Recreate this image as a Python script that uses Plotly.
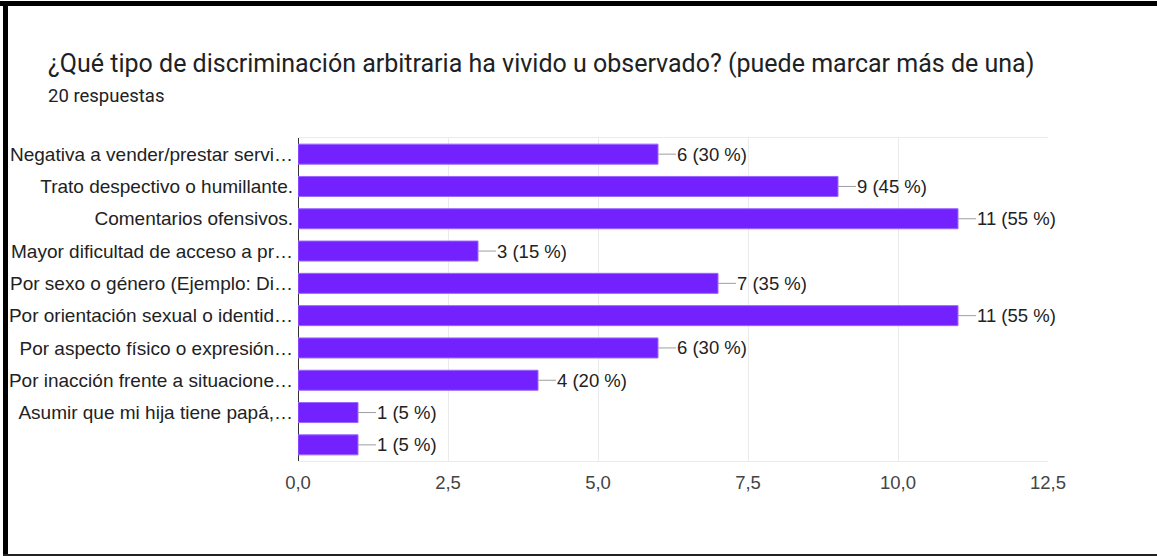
import plotly.graph_objects as go

categories = [
    "Negativa a vender/prestar servi…",
    "Trato despectivo o humillante.",
    "Comentarios ofensivos.",
    "Mayor dificultad de acceso a pr…",
    "Por sexo o género (Ejemplo: Di…",
    "Por orientación sexual o identid…",
    "Por aspecto físico o expresión…",
    "Por inacción frente a situacione…",
    "Asumir que mi hija tiene papá,…",
    " ",
]
counts = [6, 9, 11, 3, 7, 11, 6, 4, 1, 1]
total_responses = 20
x_ticks = [0, 2.5, 5, 7.5, 10, 12.5]

W, H = 1157, 556
ML, MR, MT, MB = 298, 109, 138, 95
PW, PH = W - ML - MR, H - MT - MB

BAR = "#7421ff"
LBL_FONT = "Liberation Sans, Arial"

fig = go.Figure()
fig.add_trace(go.Bar(
    x=counts, y=categories, orientation="h",
    marker=dict(color=BAR, line=dict(color="#9a66ff", width=1)),
    hoverinfo="skip",
))

for c, v in zip(categories, counts):
    pct = round(100 * v / total_responses)
    fig.add_annotation(
        x=v, y=c, xref="x", yref="y",
        text=f"{v} ({pct} %)",
        showarrow=True, arrowhead=0, arrowwidth=1, arrowcolor="#9e9e9e",
        ax=18, ay=0, xanchor="left", yanchor="middle",
        standoff=0, borderpad=0,
        font=dict(family=LBL_FONT, size=18.5, color="#222222"),
    )

def px_x(p):
    return (p - ML) / PW

def px_y(p):
    return (H - MB - p) / PH

# frame
fig.add_shape(type="rect", xref="paper", yref="paper",
              x0=px_x(0), x1=px_x(W), y0=px_y(1), y1=px_y(6),
              fillcolor="#000", line=dict(width=0), layer="above")
fig.add_shape(type="rect", xref="paper", yref="paper",
              x0=px_x(3), x1=px_x(8), y0=px_y(556), y1=px_y(1),
              fillcolor="#000", line=dict(width=0), layer="above")
fig.add_shape(type="rect", xref="paper", yref="paper",
              x0=px_x(3), x1=px_x(W), y0=px_y(556), y1=px_y(554),
              fillcolor="#222", line=dict(width=0), layer="above")

fig.add_annotation(
    xref="paper", yref="paper", x=px_x(46), y=px_y(63),
    xanchor="left", yanchor="middle", showarrow=False,
    text="¿Qué tipo de discriminación arbitraria ha vivido u observado? (puede marcar más de una)",
    font=dict(family="Roboto", size=25, color="#202124"),
)
fig.add_annotation(
    xref="paper", yref="paper", x=px_x(46), y=px_y(96),
    xanchor="left", yanchor="middle", showarrow=False,
    text=f"{total_responses} respuestas",
    font=dict(family="Roboto", size=18.5, color="#202124"),
)

fig.update_layout(
    width=W, height=H,
    margin=dict(l=ML, r=MR, t=MT, b=MB, autoexpand=False),
    paper_bgcolor="white", plot_bgcolor="white",
    separators=",.",
    showlegend=False,
    bargap=0.38,
    xaxis=dict(
        range=[0, 12.5], tickvals=x_ticks, tickformat=".1f",
        showgrid=True, gridcolor="#ebebeb", gridwidth=1,
        zeroline=True, zerolinecolor="#333333", zerolinewidth=1,
        showline=True, linecolor="#ebebeb", mirror=True,
        ticks="", ticklabelstandoff=5,
        tickfont=dict(family=LBL_FONT, size=18.5, color="#444444"),
        fixedrange=True,
    ),
    yaxis=dict(
        autorange="reversed", showgrid=False, zeroline=False, showline=False,
        ticks="", ticklabelstandoff=4,
        tickfont=dict(family=LBL_FONT, size=19, color="#222222"),
        fixedrange=True,
    ),
)

fig.write_html(
    "out.html",
    config={"displayModeBar": False},
    post_script="document.body.style.margin='0';document.body.style.overflow='hidden';",
)
